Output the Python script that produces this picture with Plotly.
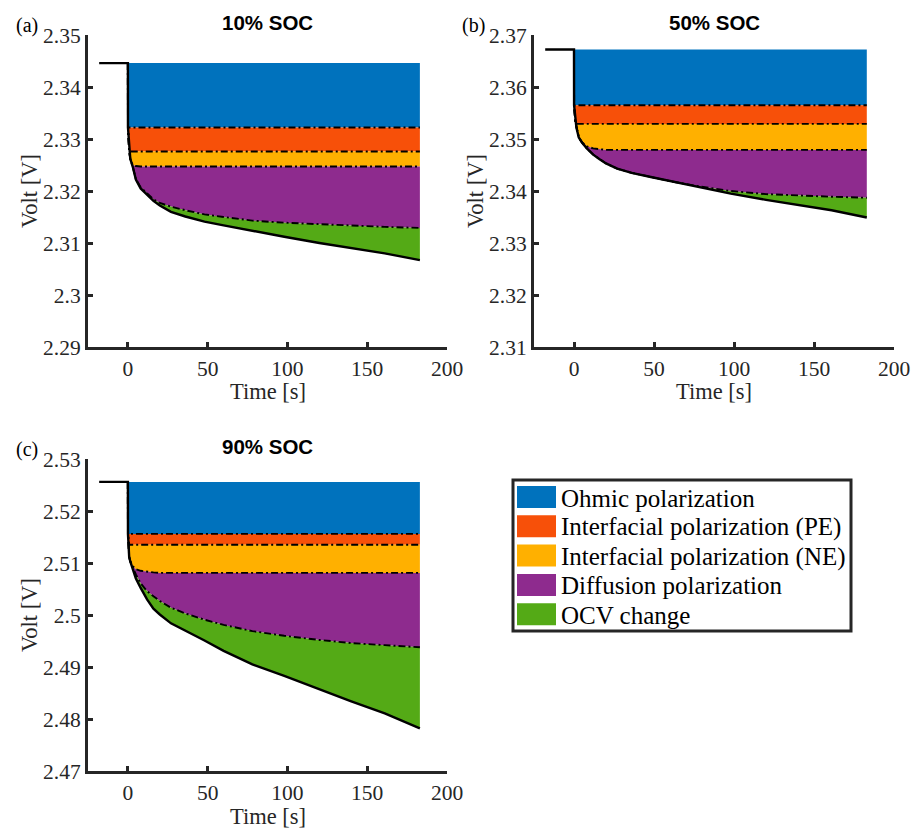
import plotly.graph_objects as go

W, H = 915, 830

# ---------------- data ----------------
T = [0, 0.05, 0.8, 1.5, 3, 5, 8, 12, 16, 20, 27, 36, 48, 60, 78, 98, 120, 140, 161, 183]
T_PRE = [-18, 0]

# Panel (a) 10% SOC
VOLT_A = [2.3446, 2.3322, 2.3276, 2.3262, 2.3247, 2.3222, 2.3205, 2.3192, 2.3181, 2.3172,
          2.3160, 2.3151, 2.3141, 2.3134, 2.3123, 2.3112, 2.3100, 2.3090, 2.3080, 2.3067]
DIFF_A = [2.3446, 2.3322, 2.3276, 2.3262, 2.3247, 2.3223, 2.3207, 2.3195, 2.3184, 2.3177,
          2.3170, 2.3163, 2.3155, 2.3150, 2.3143, 2.3139, 2.3136, 2.3133, 2.3131, 2.3129]
NE_A = [2.3446, 2.3322, 2.3276, 2.3262, 2.3250, 2.3248, 2.3247, 2.3247, 2.3247, 2.3247,
        2.3247, 2.3247, 2.3247, 2.3247, 2.3247, 2.3247, 2.3247, 2.3247, 2.3247, 2.3247]
PE_A = [2.3446, 2.3322, 2.3276, 2.3276, 2.3276, 2.3276, 2.3276, 2.3276, 2.3276, 2.3276,
        2.3276, 2.3276, 2.3276, 2.3276, 2.3276, 2.3276, 2.3276, 2.3276, 2.3276, 2.3276]
OHM_A = [2.3446, 2.3322, 2.3322, 2.3322, 2.3322, 2.3322, 2.3322, 2.3322, 2.3322, 2.3322,
         2.3322, 2.3322, 2.3322, 2.3322, 2.3322, 2.3322, 2.3322, 2.3322, 2.3322, 2.3322]

# Panel (b) 50% SOC
VOLT_B = [2.3672, 2.3565, 2.3534, 2.3522, 2.3503, 2.3493, 2.3482, 2.3470, 2.3461, 2.3453,
          2.3443, 2.3435, 2.3427, 2.3419, 2.3408, 2.3395, 2.3383, 2.3373, 2.3363, 2.3349]
DIFF_B = [2.3672, 2.3565, 2.3534, 2.3522, 2.3503, 2.3493, 2.3482, 2.3470, 2.3461, 2.3453,
          2.3443, 2.3435, 2.3427, 2.3419, 2.3409, 2.3400, 2.3394, 2.3391, 2.3389, 2.3387]
NE_B = [2.3672, 2.3565, 2.3534, 2.3522, 2.3503, 2.3494, 2.3486, 2.3482, 2.3480, 2.3479,
        2.3479, 2.3479, 2.3479, 2.3479, 2.3479, 2.3479, 2.3479, 2.3479, 2.3479, 2.3479]
PE_B = [2.3672, 2.3565, 2.3534, 2.3529, 2.3529, 2.3529, 2.3529, 2.3529, 2.3529, 2.3529,
        2.3529, 2.3529, 2.3529, 2.3529, 2.3529, 2.3529, 2.3529, 2.3529, 2.3529, 2.3529]
OHM_B = [2.3672, 2.3565, 2.3565, 2.3565, 2.3565, 2.3565, 2.3565, 2.3565, 2.3565, 2.3565,
         2.3565, 2.3565, 2.3565, 2.3565, 2.3565, 2.3565, 2.3565, 2.3565, 2.3565, 2.3565]

# Panel (c) 90% SOC
VOLT_C = [2.5256, 2.5156, 2.5112, 2.5103, 2.5090, 2.5070, 2.5052, 2.5030, 2.5012, 2.5001,
          2.4984, 2.4970, 2.4951, 2.4931, 2.4905, 2.4883, 2.4857, 2.4834, 2.4811, 2.4782]
DIFF_C = [2.5256, 2.5156, 2.5112, 2.5103, 2.5092, 2.5078, 2.5061, 2.5046, 2.5036, 2.5027,
          2.5014, 2.5003, 2.4991, 2.4981, 2.4969, 2.4960, 2.4952, 2.4946, 2.4942, 2.4938]
NE_C = [2.5256, 2.5156, 2.5112, 2.5103, 2.5094, 2.5088, 2.5085, 2.5083, 2.5082, 2.5081,
        2.5081, 2.5081, 2.5081, 2.5081, 2.5081, 2.5081, 2.5081, 2.5081, 2.5081, 2.5081]
PE_C = [2.5256, 2.5156, 2.5135, 2.5135, 2.5135, 2.5135, 2.5135, 2.5135, 2.5135, 2.5135,
        2.5135, 2.5135, 2.5135, 2.5135, 2.5135, 2.5135, 2.5135, 2.5135, 2.5135, 2.5135]
OHM_C = [2.5256, 2.5156, 2.5156, 2.5156, 2.5156, 2.5156, 2.5156, 2.5156, 2.5156, 2.5156,
         2.5156, 2.5156, 2.5156, 2.5156, 2.5156, 2.5156, 2.5156, 2.5156, 2.5156, 2.5156]

X_TICKS = [0, 50, 100, 150, 200]
Y_TICKS_A = [2.29, 2.30, 2.31, 2.32, 2.33, 2.34, 2.35]
Y_LABELS_A = ["2.29", "2.3", "2.31", "2.32", "2.33", "2.34", "2.35"]
Y_TICKS_B = [2.31, 2.32, 2.33, 2.34, 2.35, 2.36, 2.37]
Y_LABELS_B = ["2.31", "2.32", "2.33", "2.34", "2.35", "2.36", "2.37"]
Y_TICKS_C = [2.47, 2.48, 2.49, 2.50, 2.51, 2.52, 2.53]
Y_LABELS_C = ["2.47", "2.48", "2.49", "2.5", "2.51", "2.52", "2.53"]

TITLES = ["10% SOC", "50% SOC", "90% SOC"]
PANEL_TAGS = ["(a)", "(b)", "(c)"]
LEGEND_NAMES = ["Ohmic polarization", "Interfacial polarization (PE)",
                "Interfacial polarization (NE)", "Diffusion polarization", "OCV change"]
COLORS = ["#0072BD", "#F75009", "#FFB000", "#8E2B8E", "#54AA16"]

# ---------------- style / layout ----------------
AX = "#262626"
SERIF = "Liberation Serif"
SANS = "Liberation Sans"
DASHDOT = "7px,3px,2px,3px"

panels = [
    dict(xa="x", ya="y", dom=(88, 447, 35, 347), data=(VOLT_A, DIFF_A, NE_A, PE_A, OHM_A),
         yr=(2.29, 2.35), yt=Y_TICKS_A, yl=Y_LABELS_A),
    dict(xa="x2", ya="y2", dom=(534, 894, 35, 347), data=(VOLT_B, DIFF_B, NE_B, PE_B, OHM_B),
         yr=(2.31, 2.37), yt=Y_TICKS_B, yl=Y_LABELS_B),
    dict(xa="x3", ya="y3", dom=(88, 447, 459, 771), data=(VOLT_C, DIFF_C, NE_C, PE_C, OHM_C),
         yr=(2.47, 2.53), yt=Y_TICKS_C, yl=Y_LABELS_C),
]


def fx(p):
    return p / W


def fy(p):
    return 1 - p / H


fig = go.Figure()
layout = dict(width=W, height=H, margin=dict(l=0, r=0, t=0, b=0, autoexpand=False),
              paper_bgcolor="white", plot_bgcolor="white", showlegend=False)
annotations = []
shapes = []

for i, p in enumerate(panels):
    volt, diff, ne, pe, ohm = p["data"]
    v0 = volt[0]
    xa, ya = p["xa"], p["ya"]
    # fills (top -> bottom)
    fig.add_trace(go.Scatter(x=[T[0], T[-1]], y=[v0, v0], mode="lines", line=dict(width=0),
                             xaxis=xa, yaxis=ya, hoverinfo="skip"))
    for bnd, col in zip([ohm, pe, ne, diff, volt], COLORS):
        fig.add_trace(go.Scatter(x=T, y=bnd, mode="lines", line=dict(width=0),
                                 fill="tonexty", fillcolor=col, xaxis=xa, yaxis=ya,
                                 hoverinfo="skip"))
    # boundary lines
    for bnd in [ohm, pe, ne, diff]:
        fig.add_trace(go.Scatter(x=T, y=bnd, mode="lines",
                                 line=dict(color="black", width=1.9, dash=DASHDOT),
                                 xaxis=xa, yaxis=ya, hoverinfo="skip"))
    fig.add_trace(go.Scatter(x=T_PRE + T[1:], y=[v0, v0] + volt[1:], mode="lines",
                             line=dict(color="black", width=2.4), xaxis=xa, yaxis=ya,
                             hoverinfo="skip"))

    x0, x1, y0, y1 = p["dom"]
    suffix = xa[1:]
    common = dict(showline=True, linewidth=3, linecolor=AX, mirror=False, ticks="inside",
                  ticklen=5, tickwidth=3, tickcolor=AX, showgrid=False, zeroline=False,
                  automargin=False, tickfont=dict(family=SERIF, size=21.5, color=AX))
    layout["xaxis" + suffix] = dict(domain=[fx(x0), fx(x1)], range=[-25, 200], anchor=ya,
                                    tickvals=X_TICKS, ticktext=[str(v) for v in X_TICKS],
                                    **common)
    layout["yaxis" + suffix] = dict(domain=[fy(y1), fy(y0)], range=list(p["yr"]), anchor=xa,
                                    tickvals=p["yt"], ticktext=p["yl"], **common)

    cx = (x0 + x1) / 2
    cy = (y0 + y1) / 2
    annotations.append(dict(x=fx(cx), y=fy(y0 - 13), text="<b>%s</b>" % TITLES[i],
                            showarrow=False, xref="paper", yref="paper", xanchor="center",
                            yanchor="middle", font=dict(family=SANS, size=20.5, color="black")))
    annotations.append(dict(x=fx(cx), y=fy(y1 + 45), text="Time [s]", showarrow=False,
                            xref="paper", yref="paper", xanchor="center", yanchor="middle",
                            font=dict(family=SERIF, size=22.5, color=AX)))
    annotations.append(dict(x=fx(x0 - 59), y=fy(cy), text="Volt [V]", showarrow=False,
                            textangle=-90, xref="paper", yref="paper", xanchor="center",
                            yanchor="middle", font=dict(family=SERIF, size=22.5, color=AX)))
    annotations.append(dict(x=fx(x0 - 61), y=fy(y0 - 10), text=PANEL_TAGS[i], showarrow=False,
                            xref="paper", yref="paper", xanchor="center", yanchor="middle",
                            font=dict(family=SERIF, size=20, color="black")))

# ---------------- legend (drawn manually) ----------------
LX0, LX1, LY0, LY1 = 513, 851, 480, 631
shapes.append(dict(type="rect", xref="paper", yref="paper", x0=fx(LX0), x1=fx(LX1),
                   y0=fy(LY1), y1=fy(LY0), line=dict(color=AX, width=3), fillcolor="white",
                   layer="above"))
for k, (name, col) in enumerate(zip(LEGEND_NAMES, COLORS)):
    cyk = 497 + k * 29.3
    shapes.append(dict(type="rect", xref="paper", yref="paper", x0=fx(517), x1=fx(556),
                       y0=fy(cyk + 11), y1=fy(cyk - 11), line=dict(width=0), fillcolor=col,
                       layer="above"))
    annotations.append(dict(x=fx(559), y=fy(cyk + 1), text=name, showarrow=False,
                            xref="paper", yref="paper", xanchor="left", yanchor="middle",
                            font=dict(family=SERIF, size=25, color="black")))

layout["annotations"] = annotations
layout["shapes"] = shapes
fig.update_layout(**layout)
fig.write_html("out.html")
